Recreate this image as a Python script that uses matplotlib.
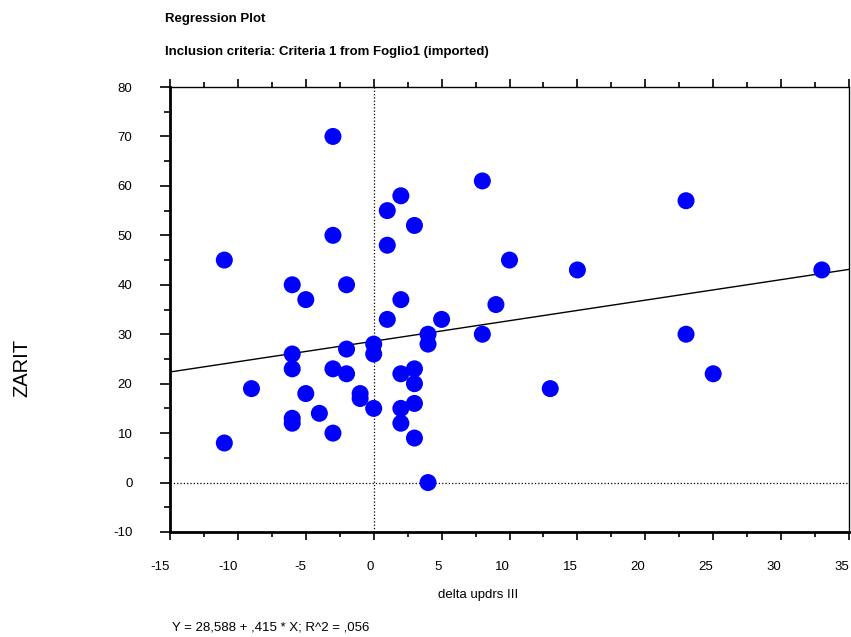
import matplotlib.pyplot as plt
from matplotlib.ticker import MultipleLocator

# delta updrs III vs ZARIT
delta_updrs = [-11, -11, -9, -6, -6, -6, -6, -6, -5, -5,
               -4, -3, -3, -3, -3, -2, -2, -2, -1, -1,
               0, 0, 0, 1, 1, 1, 2, 2, 2, 2,
               2, 3, 3, 3, 3, 3, 4, 4, 4, 5,
               8, 8, 9, 10, 13, 15, 23, 23, 25, 33]
zarit = [45, 8, 19, 40, 26, 23, 13, 12, 37, 18,
         14, 70, 50, 23, 10, 40, 27, 22, 18, 17,
         28, 26, 15, 55, 48, 33, 58, 37, 22, 15,
         12, 52, 23, 20, 16, 9, 30, 28, 0, 33,
         61, 30, 36, 45, 19, 43, 57, 30, 22, 43]

intercept = 28.588
slope = 0.415
r2 = 0.056

plt.rcParams['font.family'] = ['Liberation Sans', 'DejaVu Sans']
plt.rcParams['axes.unicode_minus'] = False

fig = plt.figure(figsize=(8.51, 6.37), dpi=100)
ax = fig.add_axes([170 / 851, 1 - 532 / 637, 679 / 851, 445 / 637])

ax.axvline(0, color='black', linestyle=':', linewidth=0.9, zorder=1)
ax.axhline(0, color='black', linestyle=':', linewidth=0.9, zorder=1)

xs = [-15, 35]
ax.plot(xs, [intercept + slope * x for x in xs], color='black', linewidth=1.0, zorder=2)
ax.scatter(delta_updrs, zarit, s=150, color='#0000ff', edgecolors='none', zorder=3)

ax.set_xlim(-15, 35)
ax.set_ylim(-10, 80)
ax.xaxis.set_major_locator(MultipleLocator(5))
ax.xaxis.set_minor_locator(MultipleLocator(2.5))
ax.yaxis.set_major_locator(MultipleLocator(10))
ax.yaxis.set_minor_locator(MultipleLocator(5))

ax.spines['left'].set_linewidth(2)
ax.spines['bottom'].set_linewidth(2)
ax.spines['top'].set_linewidth(1)
ax.spines['right'].set_linewidth(1)

ax.tick_params(axis='x', which='both', direction='out', top=True, bottom=True, width=1.2)
ax.tick_params(axis='x', which='major', length=6, pad=15, labelsize=9.5)
ax.tick_params(axis='x', which='minor', length=3.5)
ax.tick_params(axis='y', which='both', direction='out', left=True, right=False, width=1.2)
ax.tick_params(axis='y', which='major', length=7, pad=20, labelsize=9.5)
ax.tick_params(axis='y', which='minor', length=4)
for lbl in ax.get_xticklabels():
    lbl.set_horizontalalignment('right')

fig.text(165 / 851, 1 - 19 / 637, 'Regression Plot', fontsize=9.5, fontweight='bold', va='center')
fig.text(165 / 851, 1 - 52 / 637, 'Inclusion criteria: Criteria 1 from Foglio1 (imported)',
         fontsize=9.5, fontweight='bold', va='center')
fig.text(478 / 851, 1 - 595 / 637, 'delta updrs III', fontsize=9.5, ha='center', va='center')
fig.text(22 / 851, 1 - 368 / 637, 'ZARIT', fontsize=14.5, rotation=90, ha='center', va='center')
eq = f'Y = {intercept:.3f} + {slope:.3f} * X; R^2 = {r2:.3f}'.replace('0.', '.').replace('.', ',')
fig.text(172 / 851, 1 - 628 / 637, eq, fontsize=9.5, va='center')

fig.savefig('out.png', dpi=100)
